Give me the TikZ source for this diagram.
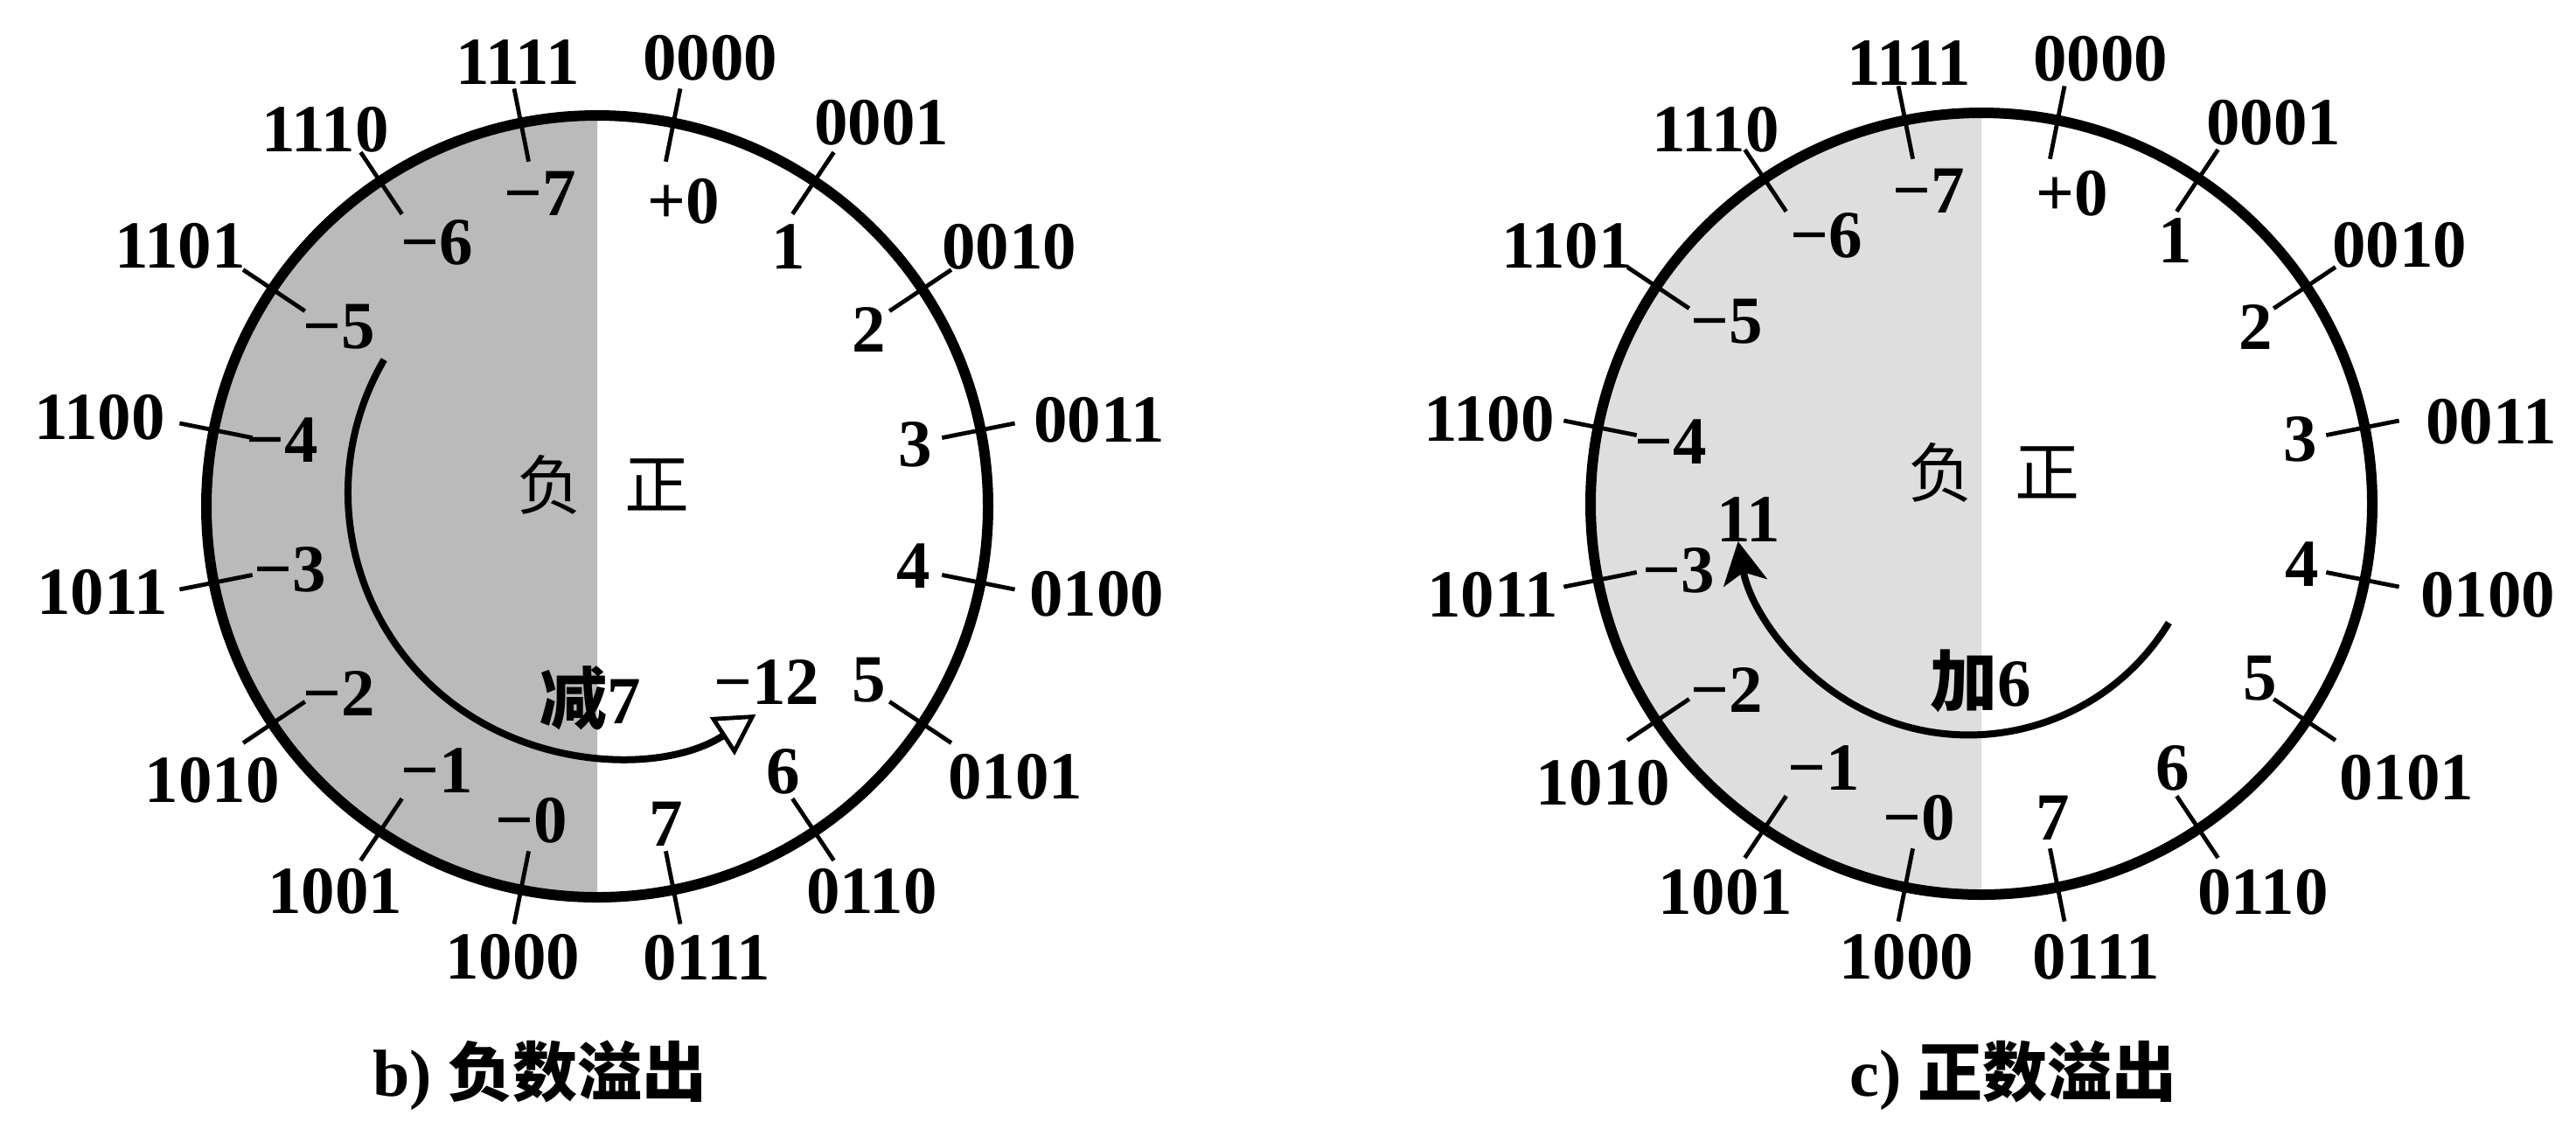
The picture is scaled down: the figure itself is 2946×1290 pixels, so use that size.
\documentclass[tikz,border=0pt]{standalone}
\usepackage{fontspec}
\setmainfont{Liberation Serif}
\newfontfamily\cjk{Noto Sans CJK SC}
\usetikzlibrary{arrows.meta}
\tikzset{
  lab/.style={font=\fontsize{19.25pt}{20pt}\selectfont\bfseries, inner sep=0pt},
  hanz/.style={font=\fontsize{18.5pt}{20pt}\selectfont\cjk, inner sep=0pt},
  capt/.style={font=\fontsize{19pt}{20pt}\selectfont\bfseries, inner sep=0pt},
  ring/.style={line width=3pt},
  ticklin/.style={line width=1.2pt},
  arcline/.style={line width=2pt},
  shadeb/.style={fill=black!27},
  shadec/.style={fill=black!13}
}
\begin{document}
\begin{tikzpicture}[x=0.25pt, y=-0.25pt]
\fill[white] (0,0) rectangle (2946,1290);
\useasboundingbox (0,0) rectangle (2946,1290);

\coordinate (cb) at (683,579);
\coordinate (cc) at (2266,576);
\coordinate (ab) at (700,563.6);
\coordinate (ac) at (2251.6,572.4);

% shaded left halves
\fill[shadeb] ([shift={(0,-447)}]cb) arc[start angle=-90, end angle=-270, radius=447] -- cycle;
\fill[shadec] ([shift={(0,-447)}]cc) arc[start angle=-90, end angle=-270, radius=447] -- cycle;

% ticks
\foreach \k in {0,...,15}{
  \draw[ticklin] ([shift={({22.5*\k-78.75}:402)}]cb) -- ([shift={({22.5*\k-78.75}:487)}]cb);
  \draw[ticklin] ([shift={({22.5*\k-78.75}:402)}]cc) -- ([shift={({22.5*\k-78.75}:487)}]cc);
}

% rings
\draw[ring] (cb) circle[radius=447];
\draw[ring] (cc) circle[radius=447];

% inner arcs
\draw[arcline, -{Triangle[open, length=11.5pt, width=12.75pt, line width=1.2pt]}]
  ([shift={(-149.7:302)}]ab) arc[start angle=-149.7, end angle=-303, radius=302];
\draw[arcline, -{Stealth[length=12pt, width=12.5pt, inset=3pt]}]
  ([shift={(31.4:268)}]ac) arc[start angle=31.4, end angle=170, radius=268];

% outer binary labels, b
\foreach \t/\x/\y [count=\i] in {0000/812/66, 0001/1008/140, 0010/1154/282, 0011/1257/480,
  0100/1254/679, 0101/1161/888, 0110/997/1019, 0111/808/1095, 1000/586/1094, 1001/383/1019,
  1010/243/892, 1011/117/677, 1100/114/477, 1101/206/281, 1110/372/148, 1111/592/71}
  \node[lab] (bo\i) at (\x,\y) {\t};
% outer binary labels, c
\foreach \t/\x/\y [count=\i] in {0000/2402/67, 0001/2600/140, 0010/2744/280, 0011/2849/482,
  0100/2845/680, 0101/2752/889, 0110/2588/1020, 0111/2397/1094, 1000/2180/1094, 1001/1973/1020,
  1010/1833/895, 1011/1707/680, 1100/1703/479, 1101/1792/281, 1110/1962/148, 1111/2183/72}
  \node[lab] (co\i) at (\x,\y) {\t};

% inner decimal labels, b
\foreach \t/\x/\y [count=\i] in {+0/781.6/230.7, 1/901.5/281.8, 2/994/377.4, 3/1047/508,
  4/1045/647, 5/994/778, 6/896/882, 7/762/942, −0/608/938.6, −1/499.7/881, −2/388/793,
  −3/332/651.7, −4/323/503, −5/388/374, −6/499.7/277, −7/617.7/221}
  \node[lab] (bi\i) at (\x,\y) {\t};
% inner decimal labels, c
\foreach \t/\x/\y [count=\i] in {+0/2370/221, 1/2488/275, 2/2580/374, 3/2631/502,
  4/2633/645, 5/2585/776, 6/2485/878, 7/2347.6/935.5, −0/2194.5/935, −1/2086/878, −2/1974.5/789,
  −3/1920/652, −4/1911/505, −5/1974.5/368, −6/2089/269, −7/2206/218}
  \node[lab] (ci\i) at (\x,\y) {\t};

% centre words, b
\node[hanz] (bneg) at (628.6,554) {负};
\node[hanz] (bpos) at (751.7,554) {正};
\node[lab] (bsub) at (675,798) {{\cjk 减}7};
\node[lab] (bres) at (877,780) {−12};
% centre words, c
\node[hanz] (cneg) at (2219,540) {负};
\node[hanz] (cpos) at (2341,540) {正};
\node[lab] (cadd) at (2265,779) {{\cjk 加}6};
\node[lab] (cres) at (2000,594) {11};

% captions
\node[capt] (capb) at (617.5,1230) {b) {\cjk\fontsize{18.5pt}{20pt}\selectfont 负数溢出}};
\node[capt] (capc) at (2302.5,1230) {c) {\cjk\fontsize{18.5pt}{20pt}\selectfont 正数溢出}};
\end{tikzpicture}
\end{document}
